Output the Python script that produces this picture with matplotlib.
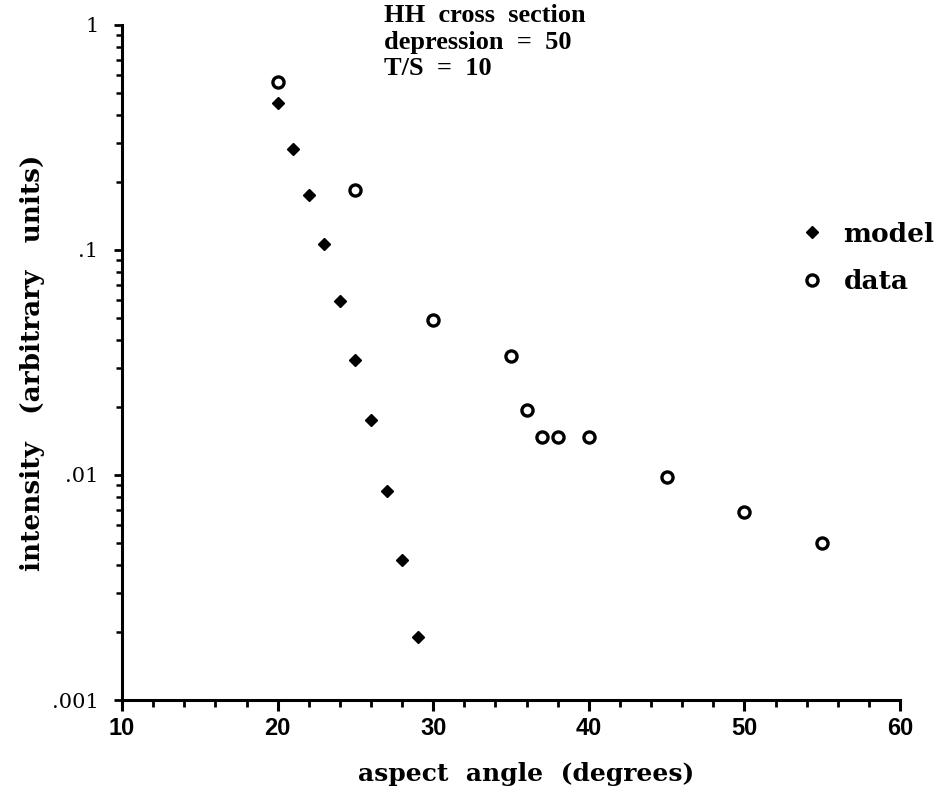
import matplotlib
matplotlib.use("Agg")
import matplotlib.pyplot as plt
from matplotlib.ticker import FixedLocator, FixedFormatter, LogLocator, NullFormatter, MultipleLocator

model_x = [20, 21, 22, 23, 24, 25, 26, 27, 28, 29]
model_y = [0.45, 0.281, 0.176, 0.106, 0.0593, 0.0325, 0.0176, 0.0085, 0.0042, 0.0019]
data_x = [20, 25, 30, 35, 36, 37, 38, 40, 45, 50, 55]
data_y = [0.558, 0.185, 0.049, 0.0338, 0.0195, 0.0148, 0.0148, 0.0148, 0.0098, 0.00685, 0.00499]
ytick_vals = [0.001, 0.01, 0.1, 1]
ytick_labels = ['.001', '.01', '.1', '1']
xtick_vals = [10, 20, 30, 40, 50, 60]

serif = ['DejaVu Serif']
tserif = ['Liberation Serif', 'DejaVu Serif']
sans = ['Liberation Sans', 'DejaVu Sans']

fig = plt.figure(figsize=(9.43, 7.98), dpi=100)
ax = fig.add_axes([0.1294, 0.1228, 0.8250, 0.8459])

ax.plot(model_x, model_y, linestyle='none', marker='D', markersize=6,
        color='black', label='model')
ax.plot(data_x, data_y, linestyle='none', marker='o', markersize=8,
        markerfacecolor='white', markeredgecolor='black', markeredgewidth=2.4,
        label='data')

ax.set_yscale('log')
ax.set_xlim(10, 60)
ax.set_ylim(0.001, 1)

for s in ['top', 'right']:
    ax.spines[s].set_visible(False)
for s in ['left', 'bottom']:
    ax.spines[s].set_linewidth(2.2)

ax.xaxis.set_major_locator(FixedLocator(xtick_vals))
ax.xaxis.set_minor_locator(MultipleLocator(2))
ax.yaxis.set_major_locator(FixedLocator(ytick_vals))
ax.yaxis.set_major_formatter(FixedFormatter(ytick_labels))
ax.yaxis.set_minor_locator(LogLocator(base=10, subs=range(2, 10)))
ax.yaxis.set_minor_formatter(NullFormatter())

ax.tick_params(axis='x', which='major', direction='out', length=8, width=2.2)
ax.tick_params(axis='x', which='minor', direction='out', length=5, width=2.0)
ax.tick_params(axis='y', which='major', direction='out', length=6, width=2.0)
ax.tick_params(axis='y', which='minor', direction='out', length=4, width=1.8)

for lab in ax.get_xticklabels():
    lab.set_fontfamily(sans)
    lab.set_fontweight('bold')
    lab.set_fontsize(17)
for lab in ax.get_yticklabels():
    lab.set_fontfamily(serif)
    lab.set_fontsize(15)
ax.tick_params(axis='x', pad=4)
ax.tick_params(axis='y', pad=11)

ax.set_xlabel('aspect  angle  (degrees)', fontfamily=serif, fontweight='bold',
              fontsize=18)
ax.xaxis.set_label_coords(0.519, -0.092)
ax.set_ylabel('intensity   (arbitrary   units)', fontfamily=serif, fontweight='bold',
              fontsize=19, labelpad=5)

ax.text(0.337, 1.031, 'HH  cross  section\ndepression  =  50\nT/S  =  10',
        transform=ax.transAxes, fontfamily=tserif, fontweight='bold',
        fontsize=19, va='top', ha='left', linespacing=1.2)

leg = ax.legend(loc='center left', bbox_to_anchor=(0.856, 0.655), frameon=False,
                prop={'family': serif, 'weight': 'bold', 'size': 19},
                handlelength=1.0, handletextpad=0.7, labelspacing=0.85,
                borderaxespad=0)

fig.savefig('out.png', dpi=100)
